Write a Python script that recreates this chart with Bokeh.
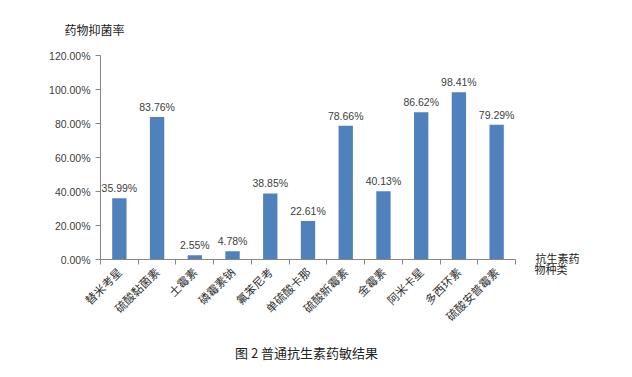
import math
from bokeh.plotting import figure
from bokeh.models import (Range1d, FixedTicker, PrintfTickFormatter, CustomJSTickFormatter,
                          ColumnDataSource, Label, LabelSet, Title)
from bokeh.core.properties import value
from bokeh.embed import file_html
from bokeh.resources import INLINE

categories = ["替米考星", "硫酸黏菌素", "土霉素", "磷霉素钠", "氟苯尼考", "单硫酸卡那",
              "硫酸新霉素", "金霉素", "阿米卡星", "多西环素", "硫酸安普霉素"]
values = [35.99, 83.76, 2.55, 4.78, 38.85, 22.61, 78.66, 40.13, 86.62, 98.41, 79.29]
y_ticks = [0, 20, 40, 60, 80, 100, 120]
y_title = "药物抑菌率"
x_title_lines = ["抗生素药", "物种类"]
caption = "图 2  普通抗生素药敏结果"

n = len(categories)
xc = [i + 0.5 for i in range(n)]
src = ColumnDataSource(dict(x=xc, v=values, lab=["%.2f%%" % v for v in values]))

W, H = 632, 377
p = figure(width=W, height=H, output_backend="svg", toolbar_location=None,
           x_range=Range1d(0, n), y_range=Range1d(0, 120),
           min_border_left=100, min_border_right=117, min_border_top=55, min_border_bottom=118)
p.outline_line_color = None
p.xgrid.visible = False
p.ygrid.visible = False
p.background_fill_color = "white"
p.border_fill_color = "white"

p.vbar(x="x", top="v", width=0.38, source=src, fill_color="#4F81BD", line_color=None)
p.add_layout(LabelSet(x="x", y="v", text="lab", source=src, text_align="center",
                      text_baseline="bottom", y_offset=4, text_font_size=value("10.5px"),
                      text_color="#404040", text_font=value("Liberation Sans")))

ax = p.xaxis[0]
ax.ticker = FixedTicker(ticks=xc, minor_ticks=list(range(n + 1)))
ax.formatter = CustomJSTickFormatter(args=dict(names=categories),
                                     code="return names[Math.floor(tick)] || '';")
ax.major_tick_line_color = None
ax.minor_tick_out = 5
ax.minor_tick_in = 0
ax.minor_tick_line_color = "#868686"
ax.axis_line_color = "#868686"
ax.major_label_orientation = math.pi / 4
ax.major_label_text_font = "Noto Sans CJK SC"
ax.major_label_text_font_size = "11.5px"
ax.major_label_text_color = "#333333"
ax.major_label_standoff = 4

ay = p.yaxis[0]
ay.ticker = FixedTicker(ticks=y_ticks, minor_ticks=[])
ay.formatter = PrintfTickFormatter(format="%.2f%%")
ay.major_tick_out = 5
ay.major_tick_in = 0
ay.major_tick_line_color = "#868686"
ay.minor_tick_line_color = None
ay.axis_line_color = "#868686"
ay.major_label_text_font = "Liberation Sans"
ay.major_label_text_font_size = "10.5px"
ay.major_label_text_color = "#404040"
ay.major_label_standoff = 5

p.add_layout(Title(text=y_title, align="left", offset=-36, standoff=35,
                   text_font="Noto Sans CJK SC", text_font_size="12px",
                   text_font_style="normal", text_color="#222222"), "above")
p.add_layout(Title(text=caption, align="center", offset=10, standoff=17,
                   text_font="Noto Sans CJK SC", text_font_size="13px",
                   text_font_style="normal", text_color="#222222"), "below")
# labels in the right panel are stacked outward, so the second one is pulled back
x_shift = [20, -25]
for k, line in enumerate(x_title_lines):
    p.add_layout(Label(x=x_shift[k], y=1.5 - 11 * k, x_units="screen", y_units="screen", text=line,
                       text_font="Noto Sans CJK SC", text_font_size="11px",
                       text_color="#222222", text_baseline="middle", text_align="left"), "right")

open("out.html", "w").write(file_html(p, INLINE))
